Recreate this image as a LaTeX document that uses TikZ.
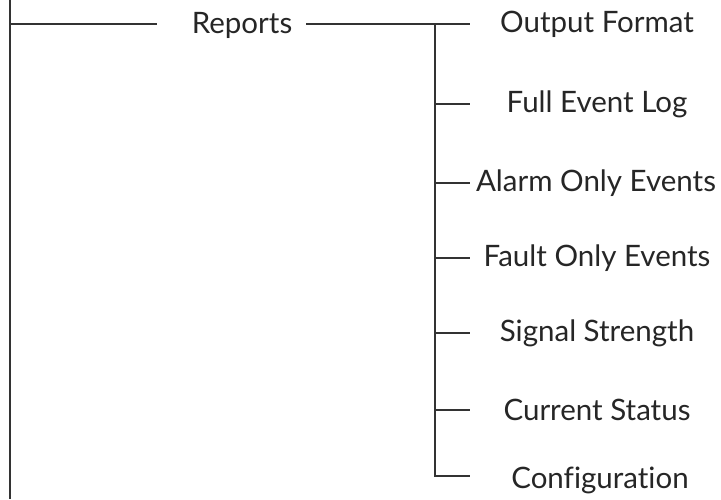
\documentclass[tikz,border=0pt]{standalone}
\usepackage{fontspec}
\setmainfont{Lato}[Ligatures=NoCommon, RawFeature={-liga;-dlig;-calt}]
\usetikzlibrary{positioning}

\begin{document}
\begin{tikzpicture}[
        x=1pt, y=1pt,
        branch/.style={draw=black!80, line width=2.2pt},
        item/.style={font=\fontsize{29.5}{32}\selectfont, text=black!85, inner sep=0pt, anchor=center}
    ]
        \useasboundingbox (0,0) rectangle (721,499);
        % root line
        \coordinate (top) at (10,499);
        \coordinate (bottom) at (10,0);
        \draw[branch] (top) -- (bottom);
        % Reports
        \node[item] (reports) at (242,474) {Reports};
        \coordinate (rl) at (157,475);
        \draw[branch] (top |- rl) -- (rl);
        % children
        \node[item] (out) at (597,475) {Output Format};
        \node[item] (full) at (597,395) {Full Event Log};
        \node[item] (alarm) at (596,316) {Alarm Only Events};
        \node[item] (fault) at (597,241) {Fault Only Events};
        \node[item] (signal) at (597,166) {Signal Strength};
        \node[item] (current) at (597,89) {Current Status};
        \node[item] (config) at (600,19) {Configurat\kern0pt ion};
        \coordinate (spine) at (435,475);
        \coordinate (tip) at (470,475);
        \draw[branch] ([xshift=14pt]reports.east |- rl) -- (tip);
        \draw[branch] (spine) -- (spine |- 0,23) -- (tip |- 0,23);
        \foreach \n in {full,alarm,fault,signal,current}
            \draw[branch] (spine |- \n) -- (tip |- \n);
\end{tikzpicture}
\end{document}
